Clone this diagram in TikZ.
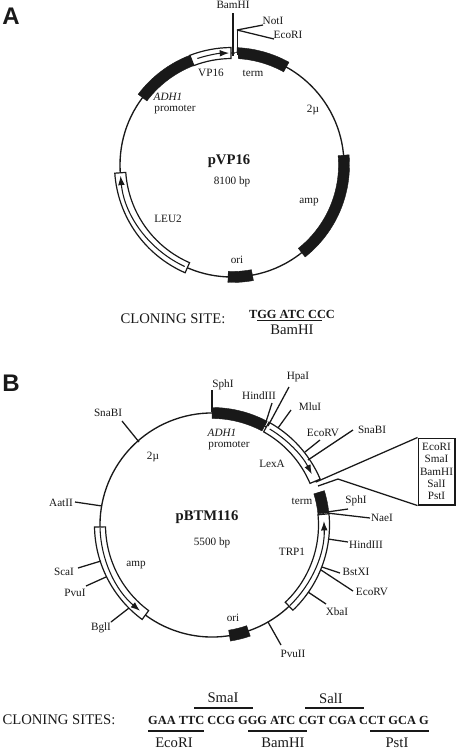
\documentclass[tikz,border=0pt]{standalone}
\usepackage{fontspec}
\setmainfont{Liberation Serif}
\newfontfamily\headfont{Liberation Sans}
\usepackage{tikz}
\usetikzlibrary{arrows.meta,positioning,calc}
\definecolor{ink}{RGB}{25,25,25}
% solid or open stretch of a plasmid: centre, from angle, to angle, style
\newcommand{\plasmidband}[4]{\draw[#4] ($(#1)+(-#2:117.5)$) arc[start angle=-#2, end angle=-#3, radius=117.5] -- ($(#1)+(-#3:106.5)$) arc[start angle=-#3, end angle=-#2, radius=106.5] -- cycle;}
% restriction site: name, point on the ring, free end, label position, label
\newcommand{\site}[5]{\node[lab] (#1) at (#4) {#5}; \coordinate (#1on) at (#2); \coordinate (#1end) at (#3); \draw[tick] (#1on) -- (#1end);}
\begin{document}
\begin{tikzpicture}[x=.75pt, y=-.75pt, font=\fontsize{8.4}{10}\selectfont, text=ink,
  lab/.style={inner sep=0pt},
  ring/.style={draw=ink, line width=1pt},
  solid/.style={draw=ink, fill=ink, line width=.3pt},
  open/.style={draw=ink, fill=white, line width=.9pt},
  core/.style={draw=ink, line width=.8pt, -{Latex[length=7pt,width=5pt]}},
  tick/.style={draw=ink, line width=.95pt},
  seqline/.style={draw=ink, line width=1pt},
  big/.style={inner sep=0pt, font=\fontsize{11}{13}\selectfont},
  seq/.style={inner sep=0pt, font=\fontsize{9.3}{12}\bfseries\selectfont},
  panel/.style={inner sep=0pt, font=\headfont\fontsize{18}{20}\bfseries\selectfont}]
\useasboundingbox (0,0) rectangle (456,750);
\fill[white] (0,0) rectangle (456,750);
\coordinate (cA) at (232,165);
\coordinate (cB) at (212,525);
\node[panel] (panelA) at (11,16) {A};
\node[panel] (panelB) at (11,383) {B};

% pVP16
\draw[ring] (cA) circle[radius=112];
\plasmidband{cA}{143}{111}{solid}
\plasmidband{cA}{111}{90.5}{open}
\draw[core] ($(cA)+(-108:112)$) arc[start angle=-108, end angle=-91.5, radius=112];
\plasmidband{cA}{87.5}{61}{solid}
\plasmidband{cA}{5}{-51.5}{solid}
\plasmidband{cA}{-79.5}{-92}{solid}
\plasmidband{cA}{246.5}{184}{open}
\draw[core] ($(cA)+(-245:112)$) arc[start angle=-245, end angle=-185.5, radius=112];
\coordinate (bamOn) at (233,56);
\coordinate (bamEnd) at (233,13);
\draw[line width=1pt, draw=ink] (bamOn) -- (bamEnd);
\fill[white] (234.5,53) rectangle (238,60);
\draw[tick, line width=.6pt] (237.5,55) -- (237.5,30);
\node[lab] (bamA) at (233,5) {BamHI};
\site{notA}{237,30}{263,25}{273,21}{NotI}
\site{ecoA}{237,30}{274,39}{288,35}{EcoRI}
\node[lab] (vpA) at (211,73) {VP16};
\node[lab] (termA) at (253,73) {term};
\node[lab, font=\fontsize{8.4}{10}\itshape\selectfont] (adhA) at (168,97) {ADH1};
\node[lab] (promA) at (175,110) {promoter};
\node[lab] (twoA) at (313,110) {2µ};
\node[lab, font=\fontsize{11}{13}\bfseries\selectfont] (nameA) at (229,161) {pVP16};
\node[lab] (bpA) at (232,182) {8100 bp};
\node[lab] (ampA) at (309,202) {amp};
\node[lab] (leuA) at (168,219) {LEU2};
\node[lab] (oriA) at (237,260) {ori};
\node[big] (cloneA) at (173,319) {CLONING SITE:};
\node[seq] (seqA) at (292,314) {TGG ATC CCC};
\node[big] (bamSeqA) at (292,330) {BamHI};
\coordinate (ulA) at (257,320.5);
\coordinate (urA) at (322,320.5);
\draw[seqline] (ulA) -- (urA);

% pBTM116
\draw[ring] ($(cB)+(-22.5:112)$) arc[start angle=-22.5, end angle=-377, radius=112];
\plasmidband{cB}{90}{62}{solid}
\plasmidband{cB}{61}{23}{open}
\draw[core] ($(cB)+(-59:112)$) arc[start angle=-59, end angle=-27, radius=112];
\plasmidband{cB}{17}{6}{solid}
\plasmidband{cB}{5.5}{-46.5}{open}
\draw[core] ($(cB)+(46:112)$) arc[start angle=46, end angle=-2, radius=112];
\plasmidband{cB}{-71}{-81}{solid}
\plasmidband{cB}{181}{233.5}{open}
\draw[core] ($(cB)+(-181.5:112)$) arc[start angle=-181.5, end angle=-230, radius=112];
\site{sphB}{212,412}{212,390}{223,385}{SphI}
\site{hindB}{265,425}{272,403}{259,396}{HindIII}
\site{hpaB}{268,426}{289,387}{298,377}{HpaI}
\site{mluB}{278,428}{291,410}{310,407}{MluI}
\site{ecoB}{305,452}{320,440}{323,433}{EcoRV}
\site{snaB}{308,460}{353,430}{372,430}{SnaBI}
\site{sphRB}{327,512}{348,509}{356,501}{SphI}
\site{naeB}{327,513}{370,518}{382,518}{NaeI}
\site{hindRB}{328,539}{348,542}{366,545}{HindIII}
\site{bstB}{322,567}{340,573}{356,572}{BstXI}
\site{ecoLowB}{321,570}{353,591}{372,592}{EcoRV}
\site{xbaB}{308,592}{326,604}{337,612}{XbaI}
\site{pvuB}{268,622}{281,645}{293,654}{PvuII}
\site{bglB}{129,608}{111,622}{101,628}{BglI}
\site{pvuLB}{106,577}{86,586}{75,593}{PvuI}
\site{scaB}{101,561}{78,568}{64,572}{ScaI}
\site{aatB}{102,506}{75,502}{61,503}{AatII}
\site{snaLB}{139,442}{122,421}{108,413}{SnaBI}
\node[draw=ink, line width=1pt, inner sep=0pt, minimum width=27.5pt, minimum height=50pt, align=center, font=\fontsize{8.4}{9.3}\selectfont] (mcs) at (436.5,471.5) {EcoRI\\SmaI\\BamHI\\SalI\\PstI};
\coordinate (lexEndA) at (316,482);
\coordinate (lexEndB) at (318,486);
\coordinate (fanKnee) at (338,479);
\draw[tick] (lexEndA) -- (mcs.north west);
\draw[tick] (lexEndB) -- (fanKnee) -- (mcs.south west);
\node[lab, font=\fontsize{8.4}{10}\itshape\selectfont] (adhB) at (222,433) {ADH1};
\node[lab] (promB) at (229,446) {promoter};
\node[lab] (lexB) at (272,464) {LexA};
\node[lab] (termB) at (302,501) {term};
\node[lab] (twoB) at (153,457) {2µ};
\node[lab, font=\fontsize{11}{13}\bfseries\selectfont] (nameB) at (207,517) {pBTM116};
\node[lab] (bpB) at (212,543) {5500 bp};
\node[lab] (trpB) at (292,552) {TRP1};
\node[lab] (ampB) at (136,565) {amp};
\node[lab] (oriB) at (233,618) {ori};

% sites below pBTM116
\node[big] (cloneB) at (59,720) {CLONING SITES:};
\node[seq] (seqB) at (288.5,720) {GAA TTC CCG GGG ATC CGT CGA CCT GCA G};
\node[big] (smaB) at (223,698) {SmaI};
\node[big] (salB) at (331,698) {SalI};
\node[big] (ecoSeqB) at (174,743) {EcoRI};
\node[big] (bamSeqB) at (283,743) {BamHI};
\node[big] (pstB) at (397,743) {PstI};
\coordinate (smaL) at (194,708);
\coordinate (smaR) at (253,708);
\coordinate (salL) at (305,708);
\coordinate (salR) at (364,708);
\coordinate (ecoL) at (148,731);
\coordinate (ecoR) at (204,731);
\coordinate (bamL) at (248,731);
\coordinate (bamR) at (307,731);
\coordinate (pstL) at (370,731);
\coordinate (pstR) at (429,731);
\draw[seqline] (smaL) -- (smaR);
\draw[seqline] (salL) -- (salR);
\draw[seqline] (ecoL) -- (ecoR);
\draw[seqline] (bamL) -- (bamR);
\draw[seqline] (pstL) -- (pstR);
\end{tikzpicture}
\end{document}
